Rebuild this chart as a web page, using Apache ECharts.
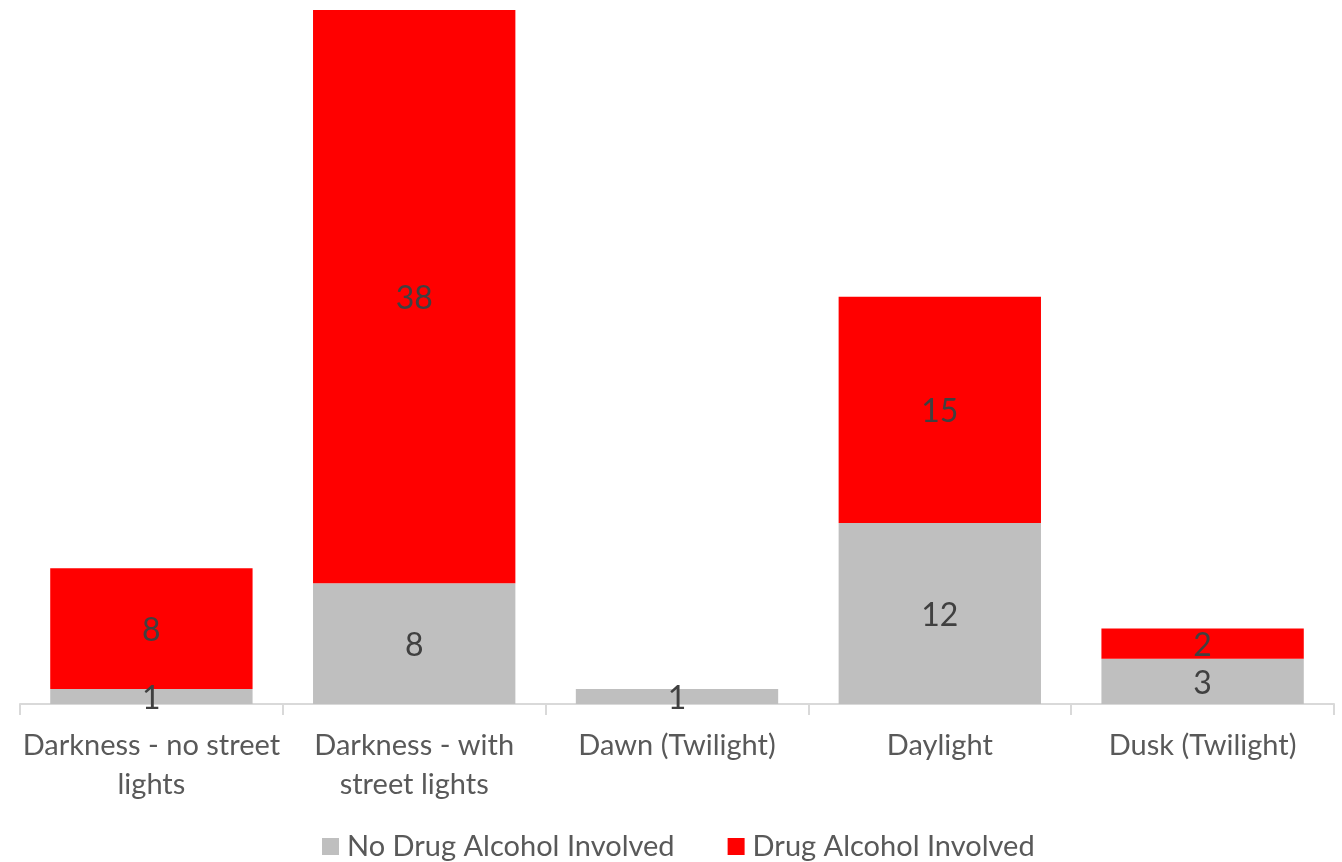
<!DOCTYPE html>
<html>
<head>
<meta charset="utf-8">
<script src="https://cdn.jsdelivr.net/npm/echarts@6/dist/echarts.min.js"></script>
<style>
  html, body { margin: 0; padding: 0; background: #ffffff; }
  #chart { width: 1342px; height: 862px; }
</style>
</head>
<body>
<div id="chart"></div>
<script>
// Light conditions and crash counts, split by drug / alcohol involvement
const categories = [
  'Darkness - no street\nlights',
  'Darkness - with\nstreet lights',
  'Dawn (Twilight)',
  'Daylight',
  'Dusk (Twilight)'
];
const seriesNames = ['No Drug Alcohol Involved', 'Drug Alcohol Involved'];
const noDrugAlcohol = [1, 8, 1, 12, 3];
const drugAlcohol = [8, 38, 0, 15, 2];

const FONT = 'Lato, "Open Sans", sans-serif';

const chart = echarts.init(document.getElementById('chart'), null, { renderer: 'canvas' });

const valueLabel = {
  show: true,
  position: 'inside',
  offset: [0, 2],
  color: '#404040',
  fontFamily: FONT,
  fontSize: 32,
  formatter: p => (p.value ? String(p.value) : '')
};

chart.setOption({
  animation: false,
  textStyle: { fontFamily: FONT },
  grid: { left: 20, right: 8, top: 10, bottom: 158, containLabel: false },
  legend: {
    top: 832,
    left: 322,
    padding: 0,
    itemWidth: 17,
    itemHeight: 17,
    itemGap: 53,
    icon: 'rect',
    textStyle: { color: '#595959', fontSize: 29, fontFamily: FONT, padding: [0, 0, 0, 3] },
    data: seriesNames
  },
  xAxis: {
    type: 'category',
    data: categories,
    axisLine: { lineStyle: { color: '#d9d9d9', width: 2 } },
    axisTick: { show: true, alignWithLabel: false, length: 11, lineStyle: { color: '#d9d9d9', width: 2 } },
    axisLabel: {
      interval: 0,
      color: '#595959',
      fontSize: 29,
      fontFamily: FONT,
      lineHeight: 39,
      margin: 22
    }
  },
  yAxis: {
    type: 'value',
    min: 0,
    max: 46,
    show: false,
    splitLine: { show: false }
  },
  series: [
    {
      name: seriesNames[0],
      type: 'bar',
      stack: 'total',
      barWidth: '77%',
      itemStyle: { color: '#bfbfbf' },
      label: valueLabel,
      data: noDrugAlcohol
    },
    {
      name: seriesNames[1],
      type: 'bar',
      stack: 'total',
      barWidth: '77%',
      itemStyle: { color: '#ff0000' },
      label: valueLabel,
      data: drugAlcohol
    }
  ]
});
</script>
</body>
</html>
